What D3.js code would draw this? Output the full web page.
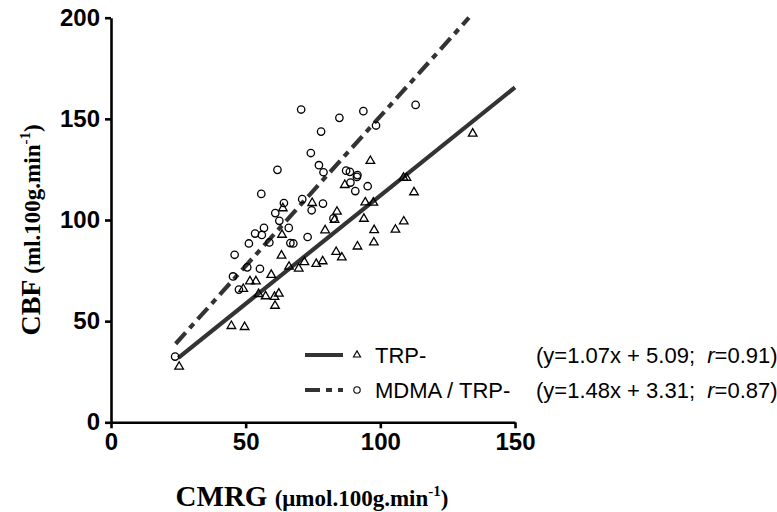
<!DOCTYPE html>
<html>
<head>
<meta charset="utf-8">
<script src="https://cdnjs.cloudflare.com/ajax/libs/d3/7.8.5/d3.min.js"></script>
<style>
  body { margin: 0; background: #fff; }
  svg { display: block; }
</style>
</head>
<body>
<div class="chart"></div>
<script>
// CMRG (x) vs CBF (y), TRP- group (triangles)
const trpX = [134.3, 96.3, 86.8, 108.6, 109.7, 112.5, 94.4, 97.4, 74.7, 63.8,
              83.9, 83.0, 93.9, 108.7, 97.7, 105.6, 79.5, 97.6, 91.5, 83.6,
              85.7, 63.5, 63.3, 71.8, 66.1, 69.7, 76.2, 78.6, 59.5, 51.6,
              53.8, 49.1, 54.8, 57.4, 60.7, 62.3, 60.9, 44.7, 49.6, 25.3];
const trpY = [142.7, 129.2, 117.3, 120.9, 120.8, 113.7, 108.7, 108.6, 108.4, 105.8,
              104.1, 100.1, 100.6, 99.3, 95.0, 95.2, 94.9, 88.9, 86.9, 84.2,
              81.5, 92.7, 82.4, 79.2, 76.9, 76.0, 78.3, 79.6, 72.9, 69.7,
              69.7, 65.9, 63.4, 62.3, 62.0, 63.6, 57.6, 47.6, 47.1, 27.5];

// MDMA / TRP- group (circles)
const mdmaX = [70.6, 84.8, 93.7, 113.1, 78.0, 98.4, 74.2, 61.8, 77.2, 78.9,
               87.3, 88.7, 91.5, 91.3, 88.9, 95.3, 90.7, 55.8, 71.0, 64.2,
               78.7, 74.5, 61.0, 62.5, 66.0, 56.8, 53.5, 56.0, 58.8, 51.2,
               66.6, 67.7, 73.0, 45.9, 50.6, 55.3, 45.3, 47.5, 23.8, 82.6];
const mdmaY = [154.6, 150.5, 153.8, 156.9, 143.7, 146.7, 133.1, 124.8, 127.1, 123.6,
               124.4, 123.8, 122.2, 121.3, 118.5, 116.7, 114.3, 112.9, 110.3, 108.4,
               108.1, 104.8, 103.4, 99.6, 96.1, 96.1, 93.3, 92.6, 88.9, 88.4,
               88.6, 88.4, 91.6, 82.8, 76.6, 75.9, 72.1, 65.6, 32.5, 100.8];

// regression lines as printed in the legend
const trpFit = { slope: 1.07, intercept: 5.09, from: 25 };
const mdmaFit = { slope: 1.48, intercept: 3.31, from: 24 };

const xTicks = [0, 50, 100, 150];
const yTicks = [0, 50, 100, 150, 200];
const legendNames = ["TRP-", "MDMA / TRP-"];
const legendEq = ["(y=1.07x + 5.09;\u00a0 ", "(y=1.48x + 3.31;\u00a0 "];
const legendR = ["0.91)", "0.87)"];

const width = 777, height = 512;
const plotLeft = 111, plotRight = 515, plotTop = 17.7, plotBottom = 422.3;

const x = d3.scaleLinear().domain([0, 150]).range([plotLeft, plotRight]);
const y = d3.scaleLinear().domain([0, 200]).range([plotBottom, plotTop]);

const svg = d3.select(".chart").append("svg")
    .attr("width", width)
    .attr("height", height);

const lineColor = "#333";
const dashes = "15,6,6,6";
const tickFont = "'Liberation Sans', Arial, sans-serif";
const serif = "'Liberation Serif', 'Times New Roman', serif";

// fitted lines
function fitPoints(f) {
    const xEnd = Math.min(150, (200 - f.intercept) / f.slope);
    return [f.from, xEnd].map(v => [v, f.slope * v + f.intercept]);
}
const line = d3.line().x(d => x(d[0])).y(d => y(d[1]));

svg.append("path")
    .attr("d", line(fitPoints(trpFit)))
    .style("fill", "none")
    .style("stroke", lineColor)
    .style("stroke-width", 4.2);

svg.append("path")
    .attr("d", line(fitPoints(mdmaFit)))
    .style("fill", "none")
    .style("stroke", lineColor)
    .style("stroke-width", 4.2)
    .style("stroke-dasharray", dashes);

// markers
const tri = d3.symbol().type(d3.symbolTriangle).size(32);

svg.append("g").selectAll("path")
    .data(d3.zip(trpX, trpY))
    .join("path")
    .attr("d", tri)
    .attr("transform", d => `translate(${x(d[0])},${y(d[1])})`)
    .style("fill", "none")
    .style("stroke", "#000")
    .style("stroke-width", 1.3);

svg.append("g").selectAll("circle")
    .data(d3.zip(mdmaX, mdmaY))
    .join("circle")
    .attr("cx", d => x(d[0]))
    .attr("cy", d => y(d[1]))
    .attr("r", 3.7)
    .style("fill", "none")
    .style("stroke", "#000")
    .style("stroke-width", 1.3);

// axes
const xAxis = svg.append("g")
    .attr("transform", `translate(0,${plotBottom})`)
    .call(d3.axisBottom(x).tickValues(xTicks).tickSize(6).tickPadding(5).tickSizeOuter(0));
const yAxis = svg.append("g")
    .attr("transform", `translate(${plotLeft},0)`)
    .call(d3.axisLeft(y).tickValues(yTicks).tickSize(6).tickPadding(5).tickSizeOuter(0));

[xAxis, yAxis].forEach(g => {
    g.select(".domain").style("stroke", "#000").style("stroke-width", 2.6);
    g.selectAll(".tick line").style("stroke", "#000").style("stroke-width", 2.6);
    g.selectAll(".tick text")
        .style("font-family", tickFont)
        .style("font-weight", "bold")
        .style("font-size", "24px")
        .style("fill", "#000");
});

// axis titles
const xTitle = svg.append("text")
    .attr("x", 312)
    .attr("y", 506)
    .attr("text-anchor", "middle")
    .style("font-family", serif)
    .style("font-weight", "bold")
    .style("fill", "#000");
xTitle.append("tspan").style("font-size", "29px").text("CMRG ");
xTitle.append("tspan").style("font-size", "23px").text("(μmol.100g.min");
xTitle.append("tspan").style("font-size", "15px").attr("dy", -10).text("-1");
xTitle.append("tspan").style("font-size", "23px").attr("dy", 10).text(")");

const yTitle = svg.append("text")
    .attr("transform", "translate(40,230) rotate(-90)")
    .attr("text-anchor", "middle")
    .style("font-family", serif)
    .style("font-weight", "bold")
    .style("fill", "#000");
yTitle.append("tspan").style("font-size", "28px").text("CBF ");
yTitle.append("tspan").style("font-size", "23px").text("(ml.100g.min");
yTitle.append("tspan").style("font-size", "15px").attr("dy", -10).text("-1");
yTitle.append("tspan").style("font-size", "23px").attr("dy", 10).text(")");

// legend
const rows = [355, 390];
rows.forEach((ry, i) => {
    const g = svg.append("g");
    g.append("line")
        .attr("x1", 305).attr("x2", 343)
        .attr("y1", ry).attr("y2", ry)
        .style("stroke", lineColor)
        .style("stroke-width", 4.2)
        .style("stroke-dasharray", i === 1 ? dashes : null);
    if (i === 0) {
        g.append("path")
            .attr("d", d3.symbol().type(d3.symbolTriangle).size(22))
            .attr("transform", `translate(357,${ry})`)
            .style("fill", "none").style("stroke", "#000").style("stroke-width", 1.1);
    } else {
        g.append("circle")
            .attr("cx", 357).attr("cy", ry).attr("r", 3.2)
            .style("fill", "none").style("stroke", "#000").style("stroke-width", 1.1);
    }
    g.append("text")
        .attr("x", 375).attr("y", ry + 8)
        .style("font-family", tickFont)
        .style("font-size", "22px")
        .style("fill", "#000")
        .text(legendNames[i]);
    const eq = g.append("text")
        .attr("x", 536).attr("y", ry + 8)
        .style("font-family", tickFont)
        .style("font-size", "22px")
        .style("fill", "#000");
    eq.append("tspan").text(legendEq[i]);
    eq.append("tspan").style("font-style", "italic").text("r");
    eq.append("tspan").text("=" + legendR[i]);
});
</script>
</body>
</html>
